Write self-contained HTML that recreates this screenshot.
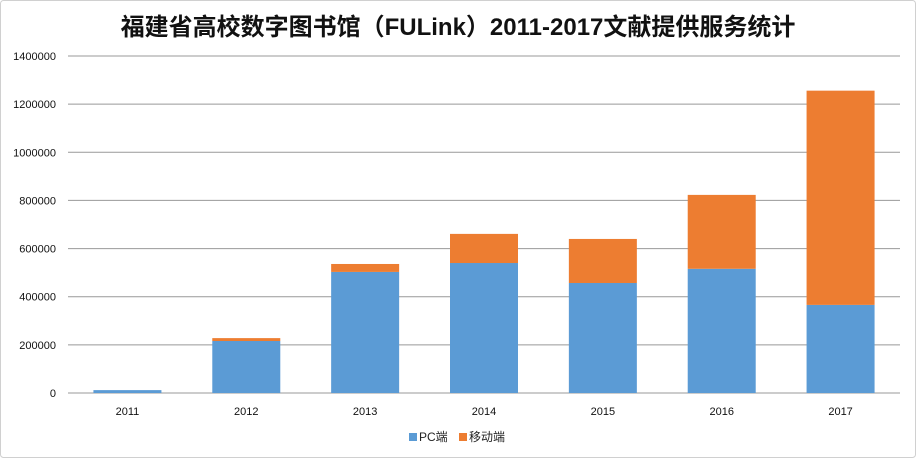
<!DOCTYPE html>
<html><head><meta charset="utf-8"><style>
html,body{margin:0;padding:0;background:#fff;}
svg{display:block;}
text{font-family:"Liberation Sans","Noto Sans CJK SC",sans-serif;}
</style></head><body>
<svg id="chart" width="916" height="458" xmlns="http://www.w3.org/2000/svg">
<rect x="0.5" y="0.5" width="915" height="457" fill="#fff" stroke="#d0d0d0" rx="3"/>
<text x="458" y="35" text-anchor="middle" font-size="24" font-weight="bold" fill="#111" style="font-family:'Liberation Sans','Noto Sans CJK SC',sans-serif">福建省高校数字图书馆（FULink）2011-2017文献提供服务统计</text>
<g id="grid"></g><g id="bars"></g><g id="xlabels"></g>
<g>
<rect x="409" y="433" width="8" height="8" fill="#5b9bd5"/>
<text x="419" y="441" font-size="12" fill="#222">PC端</text>
<rect x="459" y="433" width="8" height="8" fill="#ed7d31"/>
<text x="469" y="441" font-size="12" fill="#222">移动端</text>
</g>
</svg>
<script>
const categories=["2011","2012","2013","2014","2015","2016","2017"];
const pcValues=[12000,216000,503000,540000,457000,516000,366000];
const mobileValues=[0,12000,33000,121000,183000,307000,890000];
const yTicks=[0,200000,400000,600000,800000,1000000,1200000,1400000];
const NS="http://www.w3.org/2000/svg";
const x0=68,x1=900,y0=393,yTop=56,yMax=1400000;
const step=(x1-x0)/categories.length,bw=68;
function y(v){return y0-(v/yMax)*(y0-yTop);}
function cx(i){return x0+step*(i+0.5);}
function mk(t,a){const e=document.createElementNS(NS,t);for(const k in a)e.setAttribute(k,a[k]);return e;}
const grid=document.getElementById('grid');
yTicks.forEach(v=>{
 const l=mk('line',{x1:x0,x2:x1,y1:y(v),y2:y(v),stroke:'#999','stroke-width':1});
 
 
 grid.appendChild(l);
 const t=mk('text',{x:56,y:y(v)+4,'text-anchor':'end','font-size':11,fill:'#111'});
 t.textContent=v;
 
 
 grid.appendChild(t);
});
const bars=document.getElementById('bars'),xl=document.getElementById('xlabels');
categories.forEach((c,i)=>{
 const b=mk('rect',{x:cx(i)-bw/2,y:y(pcValues[i]),width:bw,height:y0-y(pcValues[i]),fill:'#5b9bd5'});
 
 
 bars.appendChild(b);
 const tot=pcValues[i]+mobileValues[i];
 const m=mk('rect',{x:cx(i)-bw/2,y:y(tot),width:bw,height:y(pcValues[i])-y(tot),fill:'#ed7d31'});
 
 
 bars.appendChild(m);
 const t=mk('text',{x:cx(i),y:415,'text-anchor':'middle','font-size':11,fill:'#111'});
 t.textContent=c;
 
 
 xl.appendChild(t);
});
</script>
</body></html>
